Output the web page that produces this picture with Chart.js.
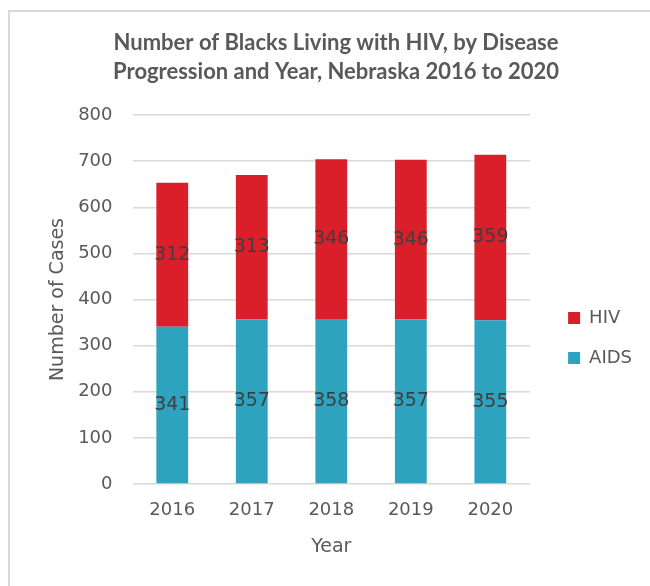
<!DOCTYPE html>
<html>
<head>
<meta charset="utf-8">
<title>Number of Blacks Living with HIV, Nebraska 2016 to 2020</title>
<script src="https://cdn.jsdelivr.net/npm/chart.js@4/dist/chart.umd.min.js"></script>
<style>
  html, body { margin: 0; padding: 0; background: #fff; }
  #wrap { position: relative; width: 650px; height: 586px; overflow: hidden; }
  #frame { position: absolute; left: 8px; top: 10px; width: 700px; height: 700px;
           border-top: 2px solid #d9d9d9; border-left: 2px solid #d9d9d9; }
  canvas { position: absolute; left: 0; top: 0; }
</style>
</head>
<body>
<div id="wrap">
  <div id="frame"></div>
  <canvas id="hivChart" width="650" height="586"></canvas>
</div>
<script>
// Chart data
const years = ['2016', '2017', '2018', '2019', '2020'];
const aidsCases = [341, 357, 358, 357, 355];
const hivCases = [312, 313, 346, 346, 359];
const yMax = 800;
const yStep = 100;

const FONT = "'DejaVu Sans', sans-serif";
const TITLE_FONT = "Lato, 'Open Sans', sans-serif";
const TEXT = '#595959';

// Value labels in the middle of each stacked segment
const segmentLabels = {
    id: 'segmentLabels',
    afterDatasetsDraw(chart) {
        const ctx = chart.ctx;
        ctx.save();
        ctx.font = '19px ' + FONT;
        ctx.fillStyle = '#404040';
        ctx.textAlign = 'center';
        ctx.textBaseline = 'middle';
        chart.data.datasets.forEach((ds, i) => {
            chart.getDatasetMeta(i).data.forEach((bar, j) => {
                ctx.fillText(ds.data[j], bar.x, (bar.y + bar.base) / 2);
            });
        });
        ctx.restore();
    }
};

// Move legend column and title box to where Excel puts them
const layoutNudge = {
    id: 'layoutNudge',
    afterLayout(chart) {
        const l = chart.legend;
        l.left += 16; l.right += 16;
        l.top += 40; l.bottom += 40;
        chart.titleBlock.right = chart.width;
    }
};

const ctx = document.getElementById('hivChart').getContext('2d');
new Chart(ctx, {
    type: 'bar',
    data: {
        labels: years,
        datasets: [{
            label: 'AIDS',
            data: aidsCases,
            backgroundColor: '#2ea3c0'
        }, {
            label: 'HIV',
            data: hivCases,
            backgroundColor: '#da1f2a'
        }]
    },
    options: {
        responsive: false,
        animation: false,
        datasets: { bar: { barPercentage: 0.4, categoryPercentage: 1.0 } },
        layout: { padding: { top: 10, left: 22, right: 24, bottom: 0 } },
        plugins: {
            title: {
                display: true,
                text: ['Number of Blacks Living with HIV, by Disease', 'Progression and Year, Nebraska 2016 to 2020'],
                color: TEXT,
                font: { family: TITLE_FONT, size: 22, weight: 'bold', lineHeight: 1.32 },
                padding: { top: 18.5, bottom: 28.5 }
            },
            legend: {
                position: 'right',
                reverse: true,
                labels: {
                    boxWidth: 12,
                    boxHeight: 12,
                    padding: 22,
                    color: TEXT,
                    font: { family: FONT, size: 18 }
                }
            },
            tooltip: { enabled: false }
        },
        scales: {
            x: {
                stacked: true,
                grid: { display: false },
                border: { display: false },
                ticks: { color: TEXT, font: { family: FONT, size: 18 }, padding: 8 },
                title: {
                    display: true, text: 'Year', color: TEXT,
                    font: { family: FONT, size: 19 },
                    padding: { top: 4, bottom: 28 }
                },
                afterFit: s => { s.height = 102; }
            },
            y: {
                stacked: true,
                min: 0,
                max: yMax,
                grid: { color: '#d9d9d9', lineWidth: 1.5, drawTicks: false },
                border: { display: false },
                ticks: { stepSize: yStep, color: TEXT, font: { family: FONT, size: 18 }, padding: 20 },
                title: {
                    display: true, text: 'Number of Cases', color: TEXT,
                    font: { family: FONT, size: 19 },
                    padding: { top: 25, bottom: 0 }
                },
                afterFit: s => { s.width = 110.5; }
            }
        }
    },
    plugins: [segmentLabels, layoutNudge]
});
</script>
</body>
</html>
